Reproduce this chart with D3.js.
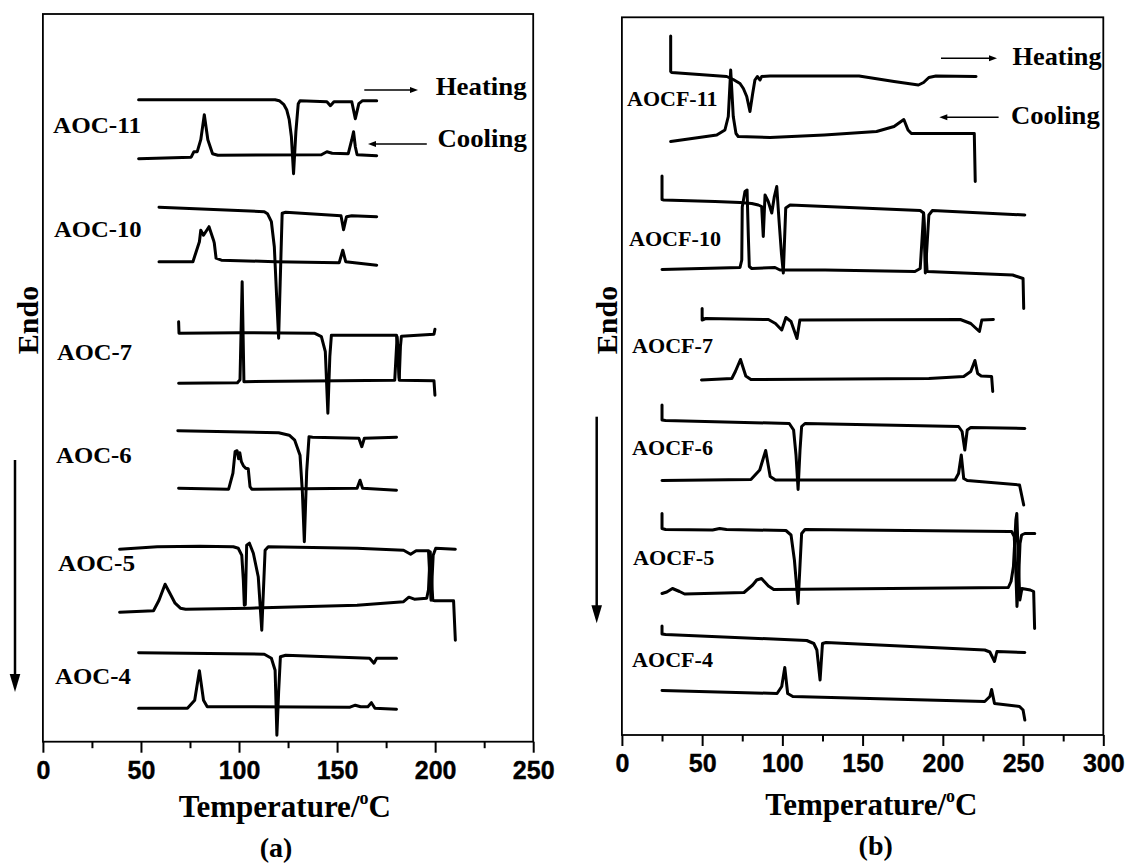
<!DOCTYPE html>
<html><head><meta charset="utf-8">
<script src="https://cdn.jsdelivr.net/npm/d3@7"></script>
<style>body{margin:0;background:#fff}</style>
</head><body>
<svg id="c" width="1127" height="863"></svg>
<script>
// ---------- DATA (temperature °C, heat flow a.u., curves offset as in the figure) ----------
const ticksA = [0, 50, 100, 150, 200, 250];
const ticksB = [0, 50, 100, 150, 200, 250, 300];
const samplesA = ["AOC-11", "AOC-10", "AOC-7", "AOC-6", "AOC-5", "AOC-4"];
const samplesB = ["AOCF-11", "AOCF-10", "AOCF-7", "AOCF-6", "AOCF-5", "AOCF-4"];

const aoc11H = [[48.8,64.2],[118.4,64.2],[120.5,64.1],[122.9,63.7],[124.3,63.2],[125.6,62.2],[126.7,60.5],[127.8,56.8],[129.0,61.0],[130.2,63.8],[131.1,64.1],[144.8,64.0],[146.6,63.6],[148.4,64.0],[157.5,64.0],[159.3,62.3],[161.1,63.8],[163.0,64.1],[170.2,64.1]];
const aoc11C = [[48.8,58.3],[75.6,58.45],[77.0,59.0],[78.7,59.0],[80.5,60.2],[82.3,62.7],[84.1,60.2],[86.5,58.8],[89.2,58.65],[142.0,58.7],[144.8,59.0],[147.5,58.85],[155.7,58.8],[157.5,60.2],[158.4,61.0],[159.3,59.5],[160.2,58.7],[170.2,58.6]];
const aoc10H = [[59.2,53.45],[112.9,53.0],[114.5,52.8],[116.5,52.0],[118.0,49.5],[119.3,44.0],[120.2,40.35],[121.0,46.0],[122.0,52.85],[123.8,52.95],[152.0,52.6],[153.3,51.2],[154.8,52.5],[157.5,52.6],[170.2,52.5]];
const aoc10C = [[59.2,48.0],[76.5,48.0],[77.9,48.85],[79.8,50.0],[80.5,51.15],[81.9,50.65],[84.7,51.5],[87.0,50.15],[87.4,49.85],[88.3,48.35],[91.0,48.15],[118.4,48.0],[151.1,47.9],[152.9,49.15],[154.4,48.0],[170.2,47.65]];
const aoc7H = [[69.2,42.0],[69.4,40.85],[100.1,40.9],[138.4,40.85],[142.0,40.5],[144.0,39.0],[145.3,32.85],[146.3,38.5],[147.1,40.65],[180.3,40.65],[181.0,39.5],[181.7,36.35],[182.3,39.5],[182.8,40.55],[199.4,40.75],[199.9,41.25]];
const aoc7C = [[69.2,35.85],[99.2,35.9],[100.5,36.2],[101.6,46.0],[102.5,36.0],[179.4,36.15],[180.6,40.5],[181.7,36.15],[199.4,36.1],[199.9,34.65]];
const aoc6H = [[68.8,31.1],[120.2,30.9],[125.6,30.65],[128.4,30.15],[131.1,28.65],[132.3,25.0],[133.3,20.0],[134.5,27.0],[135.7,30.5],[137.5,30.45],[161.1,30.35],[162.6,29.5],[163.9,30.35],[180.3,30.45]];
const aoc6C = [[69.2,25.35],[94.7,25.25],[96.9,26.85],[98.0,29.0],[99.0,29.1],[99.8,28.3],[100.4,28.9],[101.2,28.0],[102.2,27.6],[103.4,27.35],[104.7,27.3],[105.6,25.5],[106.5,25.25],[160.2,25.35],[161.7,26.15],[163.0,25.35],[180.3,25.15]];
const aoc5H = [[39.1,19.25],[58.3,19.5],[80.1,19.55],[97.1,19.5],[99.6,19.35],[101.4,18.65],[102.2,16.15],[102.7,13.65],[103.2,13.7],[103.9,19.65],[105.3,19.85],[107.3,18.85],[109.8,16.5],[111.6,11.15],[113.3,19.15],[114.9,19.5],[160.2,19.35],[183.9,19.15],[187.5,18.75],[190.3,19.1],[196.6,19.1],[197.9,14.15],[199.0,18.65],[200.3,19.35],[210.3,19.25]];
const aoc5C = [[39.1,12.95],[56.4,13.1],[59.2,14.15],[62.3,15.75],[64.6,14.9],[67.4,13.85],[70.1,13.35],[72.8,13.25],[105.6,13.35],[160.2,13.65],[183.9,14.0],[186.6,14.45],[189.4,14.25],[195.7,14.35],[196.6,15.2],[197.5,19.0],[198.5,15.2],[198.8,14.15],[199.9,14.1],[209.4,14.1],[210.3,10.15]];
const aoc4H = [[48.8,8.9],[112.9,8.75],[116.5,8.35],[118.4,7.15],[119.3,0.65],[120.2,5.0],[121.1,8.5],[123.8,8.65],[166.6,8.35],[168.8,7.85],[170.2,8.35],[180.3,8.35]];
const aoc4C = [[48.8,3.35],[73.7,3.35],[77.4,4.15],[79.8,7.1],[81.9,4.15],[83.8,3.5],[156.6,3.45],[159.3,3.65],[162.0,3.5],[165.7,3.5],[167.5,3.9],[169.3,3.35],[180.3,3.25]];

const aocf11H = [[30.4,69.9],[30.4,66.35],[31.0,66.25],[65.3,65.85],[69.4,65.55],[73.6,65.15],[75.7,64.65],[77.8,63.85],[79.8,62.35],[81.5,64.15],[82.9,65.5],[84.4,65.85],[86.1,65.5],[87.1,65.85],[92.3,65.9],[147.8,65.9],[169.6,65.35],[184.8,65.0],[188.0,65.25],[191.3,65.75],[195.7,65.9],[220.7,65.85]];
const aocf11C = [[30.4,59.35],[59.1,60.0],[64.2,60.5],[66.3,61.85],[67.8,66.5],[69.4,61.85],[71.1,60.15],[72.5,59.85],[92.3,59.75],[126.1,60.0],[158.7,60.35],[169.6,60.85],[175.7,61.55],[178.3,60.5],[180.4,60.15],[219.6,60.15],[220.2,55.35]];
const aocf10H = [[25.0,55.9],[25.0,53.55],[26.1,53.5],[58.0,53.35],[73.6,53.25],[80.9,53.15],[85.0,53.0],[87.1,52.85],[88.1,49.85],[89.2,54.0],[91.2,53.35],[93.4,52.2],[95.0,53.85],[96.5,54.85],[97.9,51.5],[99.4,48.2],[100.6,46.2],[102.1,52.7],[104.8,53.0],[185.9,52.45],[188.0,52.2],[189.1,46.2],[191.3,52.0],[193.5,52.45],[251.1,52.0]];
const aocf10C = [[25.0,46.55],[73.6,46.75],[74.7,47.5],[75.0,52.8],[76.7,54.35],[78.0,54.5],[78.8,49.85],[79.4,46.85],[80.9,46.65],[95.4,46.75],[98.5,46.5],[126.6,46.5],[182.6,46.35],[185.9,46.65],[187.2,50.0],[188.0,52.2],[188.8,50.0],[190.2,46.35],[243.5,46.0],[250.0,45.65],[250.4,42.65]];
const aocf7H = [[50.0,42.65],[50.0,41.5],[52.2,41.65],[91.3,41.55],[95.7,41.15],[99.6,40.5],[102.2,41.75],[105.4,41.35],[109.1,39.65],[110.9,41.5],[210.9,41.55],[217.4,41.15],[222.8,40.35],[224.3,41.5],[231.5,41.55]];
const aocf7C = [[49.6,35.5],[68.5,35.65],[70.7,36.35],[73.9,37.55],[77.2,35.9],[80.4,35.55],[191.3,35.65],[213.0,35.85],[217.4,36.35],[220.0,37.45],[221.7,36.15],[223.9,35.9],[230.4,35.85],[231.1,34.35]];
const aocf6H = [[25.0,33.0],[25.0,31.5],[27.2,31.45],[104.3,31.15],[107.0,30.5],[108.5,28.0],[109.8,24.55],[111.0,28.5],[112.0,30.85],[114.1,31.15],[209.8,30.85],[212.0,30.35],[213.7,28.5],[215.2,30.5],[217.4,30.75],[251.1,30.65]];
const aocf6C = [[25.0,25.45],[80.4,25.55],[85.9,26.5],[89.6,28.45],[92.4,25.85],[95.7,25.5],[207.6,25.5],[209.8,26.15],[211.5,28.0],[213.0,25.65],[215.2,25.45],[247.8,25.0],[250.4,23.0]];
const aocf5H = [[25.0,22.15],[25.0,20.65],[27.2,20.55],[56.5,20.5],[60.9,20.65],[65.2,20.55],[102.2,20.45],[105.4,20.0],[107.5,17.5],[109.8,13.15],[111.0,17.0],[112.0,20.15],[114.1,20.55],[241.3,20.35],[242.9,20.35],[244.5,19.85],[245.4,16.85],[246.2,12.85],[247.1,15.15],[248.1,19.15],[249.1,20.0],[251.1,20.15],[257.3,20.15]];
const aocf5C = [[25.0,14.15],[28.0,14.3],[31.5,14.65],[35.9,14.35],[39.1,14.1],[76.1,14.25],[81.5,15.0],[84.0,15.5],[87.0,15.65],[91.3,14.9],[94.6,14.55],[240.8,14.75],[242.5,15.35],[244.0,16.85],[245.5,21.5],[246.1,22.15],[247.2,16.85],[248.0,13.5],[249.3,14.65],[254.5,14.5],[256.6,14.35],[257.2,10.65]];
const aocf4H = [[25.0,10.9],[25.0,10.1],[27.2,10.05],[115.2,9.45],[119.6,9.15],[121.5,8.5],[123.5,5.5],[125.0,9.15],[127.2,9.25],[226.1,8.5],[229.3,8.3],[232.2,7.35],[233.7,8.35],[251.1,8.25]];
const aocf4C = [[25.0,4.45],[96.7,4.15],[99.6,4.85],[101.5,6.75],[103.3,4.15],[106.5,3.85],[226.1,3.35],[229.3,3.85],[230.4,4.55],[232.2,3.15],[247.8,2.85],[250.0,2.5],[251.1,1.5]];

// ---------- DRAWING ----------
const svg = d3.select('#c');
const SERIF = "'Liberation Serif','Times New Roman',serif";
const SANS = "'Liberation Sans',Arial,sans-serif";

const panels = [
  { x: d3.scaleLinear().domain([0,250]).range([42.9,533.2]),
    y: d3.scaleLinear().domain([0,72.77]).range([741.7,14]),
    ticks: ticksA, tickY: 37.6,
    curves: [aoc11H,aoc11C,aoc10H,aoc10C,aoc7H,aoc7C,aoc6H,aoc6C,aoc5H,aoc5C,aoc4H,aoc4C],
    names: samplesA, labelSize: 24,
    labelPos: [[53,133,88],[54,237,87.5],[57,360,75],[56,463,75.7],[58,571,77],[55,684,76]],
    heat: {x0:364.3, x1:418, y:90, tx:435.7, ty:95, w:91},
    cool: {x0:426.8, x1:368, y:144, tx:437.5, ty:146.5, w:89.3},
    endo: {x:37.5, y:320}, down: {x:15, y0:460, y1:692},
    title: {x:284.8, y:817, w:219}, sub: {x:276, y:856.7, t:'(a)'} },
  { x: d3.scaleLinear().domain([0,300]).range([621.9,1103.3]),
    y: d3.scaleLinear().domain([0,71.77]).range([735,17.3]),
    ticks: ticksB, tickY: 36.7,
    curves: [aocf11H,aocf11C,aocf10H,aocf10C,aocf7H,aocf7C,aocf6H,aocf6C,aocf5H,aocf5C,aocf4H,aocf4C],
    names: samplesB, labelSize: 21,
    labelPos: [[627,106,90.5],[629,246,92],[632,353,81],[632,455,81],[633,565,81.3],[632,667,81]],
    heat: {x0:941, x1:997, y:58.3, tx:1012.6, ty:65, w:89},
    cool: {x0:998.6, x1:939.3, y:117.3, tx:1010.9, ty:123.5, w:88.9},
    endo: {x:616.5, y:320}, down: {x:596.7, y0:416.7, y1:623.3},
    title: {x:871.4, y:815, w:216}, sub: {x:875.7, y:855, t:'(b)'} }
];

function hArrow(g, a){
  const dir = a.x1 > a.x0 ? 1 : -1;
  g.append('line').attr('x1',a.x0).attr('x2',a.x1 - dir*6).attr('y1',a.y).attr('y2',a.y)
    .attr('stroke','#000').attr('stroke-width',1.6);
  g.append('path').attr('d',`M${a.x1},${a.y}L${a.x1-dir*8},${a.y-3}L${a.x1-dir*8},${a.y+3}Z`).attr('fill','#000');
}

panels.forEach(p => {
  const g = svg.append('g');
  const [xl, xr] = p.x.range(); const [yb, yt] = p.y.range();
  // frame
  g.append('rect').attr('x',xl).attr('y',yt).attr('width',xr-xl).attr('height',yb-yt)
    .attr('fill','none').attr('stroke','#000').attr('stroke-width',1.8);
  // axes
  const minor = d3.range(0, p.x.domain()[1], 25).filter(v => v % 50 !== 0);
  const ax = g.append('g').attr('transform',`translate(0,${yb})`)
    .call(d3.axisBottom(p.x).tickValues(p.ticks).tickSize(11).tickSizeOuter(0).tickFormat(d3.format('d')));
  ax.select('.domain').remove();
  ax.selectAll('line').attr('stroke','#000').attr('stroke-width',2);
  ax.selectAll('text').attr('y',p.tickY).attr('dy',0).attr('font-family',SANS)
    .attr('font-weight','bold').attr('font-size',25).attr('fill','#000')
    .attr('stroke','#000').attr('stroke-width',0.4);
  const mx = g.append('g').attr('transform',`translate(0,${yb})`)
    .call(d3.axisBottom(p.x).tickValues(minor).tickSize(6.5).tickSizeOuter(0).tickFormat(''));
  mx.select('.domain').remove();
  mx.selectAll('line').attr('stroke','#000').attr('stroke-width',2);

  // curves
  const line = d3.line().x(d => p.x(d[0])).y(d => p.y(d[1])).curve(d3.curveLinear);
  g.selectAll('path.curve').data(p.curves).join('path').attr('class','curve')
    .attr('d', line).attr('fill','none').attr('stroke','#000').attr('stroke-width',3)
    .attr('stroke-linejoin','round').attr('stroke-linecap','round');

  // sample labels
  p.names.forEach((n,i) => {
    g.append('text').attr('x',p.labelPos[i][0]).attr('y',p.labelPos[i][1]).text(n)
      .attr('textLength',p.labelPos[i][2]).attr('lengthAdjust','spacingAndGlyphs')
      .attr('font-family',SERIF).attr('font-weight','bold').attr('font-size',p.labelSize);
  });
  // heating / cooling
  hArrow(g, p.heat); hArrow(g, p.cool);
  g.append('text').attr('x',p.heat.tx).attr('y',p.heat.ty).text('Heating')
    .attr('textLength',p.heat.w).attr('lengthAdjust','spacingAndGlyphs')
    .attr('font-family',SERIF).attr('font-weight','bold').attr('font-size',25);
  g.append('text').attr('x',p.cool.tx).attr('y',p.cool.ty).text('Cooling')
    .attr('textLength',p.cool.w).attr('lengthAdjust','spacingAndGlyphs')
    .attr('font-family',SERIF).attr('font-weight','bold').attr('font-size',25);
  // Endo
  g.append('text').attr('transform',`translate(${p.endo.x},${p.endo.y}) rotate(-90)`)
    .attr('text-anchor','middle').text('Endo')
    .attr('font-family',SERIF).attr('font-weight','bold').attr('font-size',30);
  g.append('line').attr('x1',p.down.x).attr('x2',p.down.x).attr('y1',p.down.y0).attr('y2',p.down.y1-14)
    .attr('stroke','#000').attr('stroke-width',2.5);
  g.append('path').attr('d',`M${p.down.x},${p.down.y1}L${p.down.x-5.3},${p.down.y1-18}L${p.down.x+5.3},${p.down.y1-18}Z`).attr('fill','#000');
  // axis title
  const t = g.append('text').attr('x',p.title.x).attr('y',p.title.y).attr('text-anchor','middle')
    .attr('font-family',SERIF).attr('font-weight','bold').attr('font-size',31);
  t.append('tspan').text('Temperature/');
  t.append('tspan').attr('font-size',18).attr('dy',-13).text('o');
  t.append('tspan').attr('dy',13).text('C');
  g.append('text').attr('x',p.sub.x).attr('y',p.sub.y).attr('text-anchor','middle').text(p.sub.t)
    .attr('font-family',SERIF).attr('font-weight','bold').attr('font-size',28);
});
</script>
</body></html>
